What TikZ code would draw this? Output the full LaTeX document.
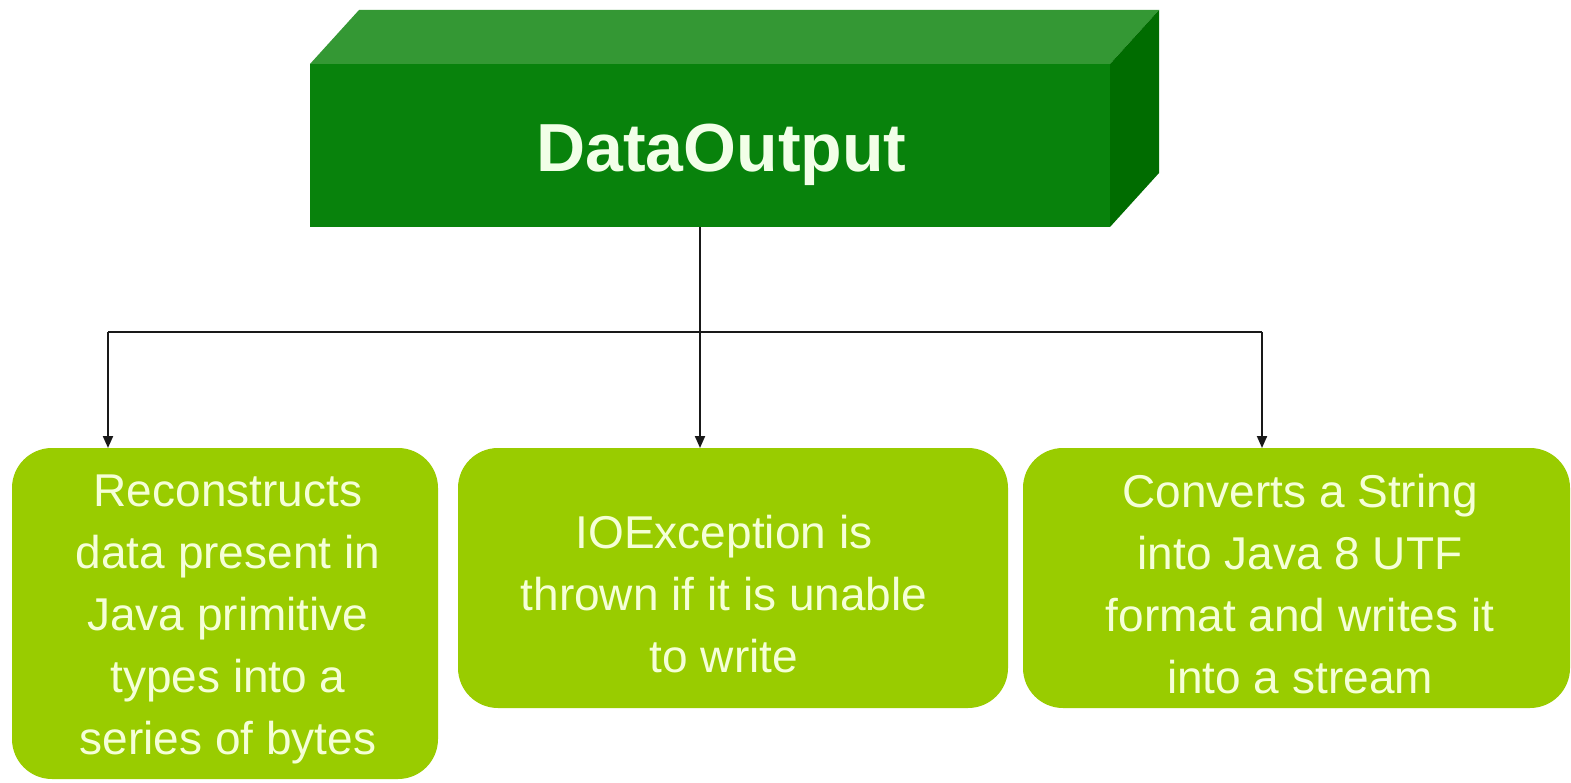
\documentclass[tikz,border=0pt]{standalone}
\usepackage{fontspec}
\setmainfont{Liberation Sans}
\usetikzlibrary{arrows.meta}

\definecolor{frontgreen}{RGB}{8,130,12}
\definecolor{topgreen}{RGB}{52,152,52}
\definecolor{sidegreen}{RGB}{0,108,0}
\definecolor{leafgreen}{RGB}{153,204,0}
\definecolor{titletext}{RGB}{242,255,232}
\definecolor{bodytext}{RGB}{245,255,215}

\tikzset{
  face/.style={inner sep=0pt, outer sep=0pt},
  leafbox/.style={face, fill=leafgreen, rounded corners=40pt},
  leaftext/.style={inner sep=0pt, align=center, text=bodytext,
    font=\fontsize{46}{62}\selectfont},
  link/.style={line width=2pt, draw=black!90},
  tip/.style={link, -{Triangle[length=12pt,width=10pt]}}
}

\begin{document}
\begin{tikzpicture}[x=1pt, y=-1pt]
  \useasboundingbox[fill=white] (0,0) rectangle (1571,783);

  % the 3D block: front face with its top and right faces
  \node[face, fill=frontgreen, minimum width=800pt, minimum height=163pt]
    (top) at (710,145.5) {};
  \fill[topgreen] (top.north west) -- ++(49,-54)
    -- ([shift={(49,-54)}]top.north east) -- (top.north east) -- cycle;
  \fill[sidegreen] (top.north east) -- ++(49,-54)
    -- ([shift={(49,-54)}]top.south east) -- (top.south east) -- cycle;
  \node[inner sep=0pt, anchor=base, text=titletext,
    font=\bfseries\fontsize{68}{80}\selectfont] (title) at (721.5,172) {DataOutput};

  % the three description boxes
  \node[leafbox, minimum width=426pt, minimum height=331pt] (b1) at (225,613.5) {};
  \node[leafbox, minimum width=550pt, minimum height=260pt] (b2) at (733,578) {};
  \node[leafbox, minimum width=547pt, minimum height=260pt] (b3) at (1296.5,578) {};

  \node[leaftext] (t1) at (228,619.5)
    {Reconstructs\\data present in\\Java primitive\\types into a\\series of bytes};
  \node[leaftext] (t2) at (724,594)
    {IOException is\\thrown if it is unable\\to write};
  \node[leaftext] (t3) at (1300,584)
    {Converts a String\\into Java 8 UTF\\format and writes it\\into a stream};

  % connector tree
  \coordinate (j) at (700,332);
  \coordinate (a1) at (108,448);
  \coordinate (a2) at (700,448);
  \coordinate (a3) at (1262,448);
  \draw[link] (top.south -| j) -- (j);
  \draw[link] (a1 |- j) -- (a3 |- j);
  \draw[tip] (a1 |- j) -- (a1);
  \draw[tip] (j) -- (a2);
  \draw[tip] (a3 |- j) -- (a3);
\end{tikzpicture}
\end{document}
